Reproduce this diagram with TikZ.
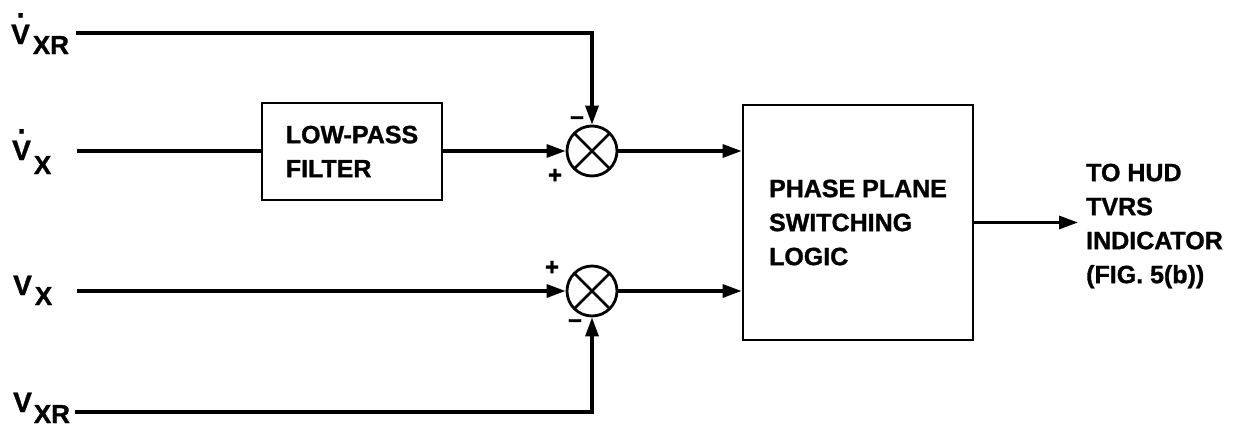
\documentclass[tikz,border=0pt]{standalone}
\usepackage{fontspec}
\setmainfont{Liberation Sans}[BoldFeatures={FakeBold=1.2}]
\usetikzlibrary{arrows.meta}
\newcommand\VDot{\ooalign{V\cr\hidewidth\raisebox{0.95em}{.}\hidewidth\cr}}
\newcommand\subsz{\fontsize{26}{26}\selectfont}
\tikzset{
  sig/.style={line width=3.2pt, line join=miter},
  arr/.style={sig, -{Triangle[length=19pt,width=13pt]}},
  blockbox/.style={draw, line width=2.8pt, inner sep=0pt, align=left,
    font=\bfseries\fontsize{25}{34}\selectfont},
  sumnode/.style={draw, circle, line width=2.8pt, minimum size=50pt, inner sep=0pt,
    path picture={\draw[line width=2.6pt]
      (path picture bounding box.north west) -- (path picture bounding box.south east)
      (path picture bounding box.south west) -- (path picture bounding box.north east);}},
  lbl/.style={anchor=base west, inner sep=0pt, font=\bfseries\fontsize{28}{28}\selectfont},
  sgn/.style={inner sep=0pt, font=\bfseries\fontsize{24}{24}\selectfont},
  outtxt/.style={anchor=west, inner sep=0pt, align=left, font=\bfseries\fontsize{25}{34}\selectfont}
}
\begin{document}
\begin{tikzpicture}[x=1pt,y=-1pt]
\useasboundingbox (0,0) rectangle (1250,431);
% labels
\node[lbl] (l1) at (11,44) {\VDot\kern3pt\raisebox{-10pt}{\subsz XR}};
\node[lbl] (l2) at (12,160) {\VDot\kern3pt\raisebox{-14pt}{\subsz X}};
\node[lbl] (l3) at (13,295) {V\kern3pt\raisebox{-10pt}{\subsz X}};
\node[lbl] (l4) at (13,412) {V\kern2pt\raisebox{-11pt}{\subsz XR}};
% line starts
\coordinate (s1) at (76,33);
\coordinate (s2) at (77,151);
\coordinate (s3) at (77,292);
\coordinate (s4) at (75,412);
% blocks
\node[blockbox, minimum width=180pt, minimum height=97pt] (lpf) at (352,151.5) {LOW-PASS\\FILTER};
\node[blockbox, minimum width=230pt, minimum height=235pt] (pps) at (858,222.5) {PHASE PLANE\\SWITCHING\\LOGIC};
\node[sumnode] (sum1) at (592,151) {};
\node[sumnode] (sum2) at (592,291) {};
% signs
\node[sgn] (m1) at (577,121) {−};
\node[sgn] (p1) at (555,176) {+};
\node[sgn] (p2) at (552,268) {+};
\node[sgn] (m2) at (575,324) {−};
% output
\coordinate (otip) at (1078,222.5);
\node[outtxt] (out) at (1086,226) {TO HUD\\TVRS\\INDICATOR\\(FIG. 5(b))};
% connectors
\draw[arr] (s1) -| (sum1.north);
\draw[sig] (s2) -- (lpf.west |- s2);
\draw[arr] (lpf.east |- sum1) -- (sum1.west);
\draw[arr] (sum1.east) -- (pps.west |- sum1.east);
\draw[arr] (s3 |- sum2) -- (sum2.west);
\draw[arr] (s4) -| (sum2.south);
\draw[arr] (sum2.east) -- (pps.west |- sum2.east);
\draw[arr] (pps.east) -- (otip);
\end{tikzpicture}
\end{document}
